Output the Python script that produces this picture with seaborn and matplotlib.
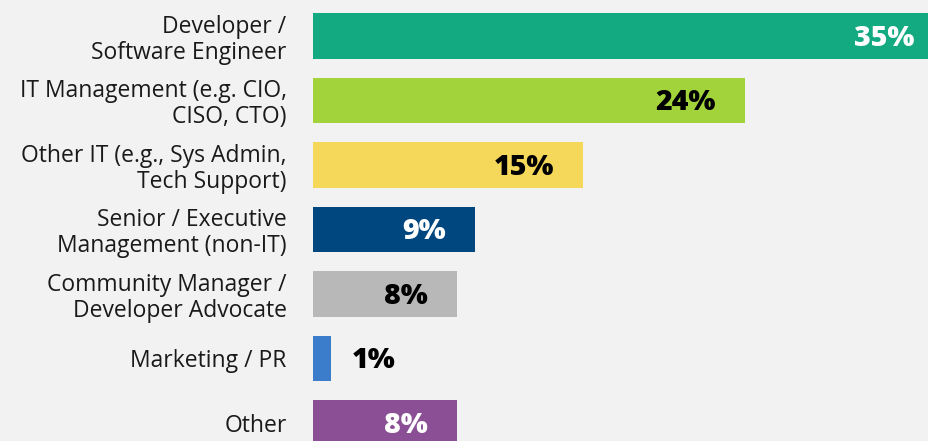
import matplotlib.pyplot as plt
import seaborn as sns
import pandas as pd

# dados
roles = ['Developer /\nSoftware Engineer', 'IT Management (e.g. CIO,\nCISO, CTO)',
         'Other IT (e.g., Sys Admin,\nTech Support)', 'Senior / Executive\nManagement (non-IT)',
         'Community Manager /\nDeveloper Advocate', 'Marketing / PR', 'Other']
shares = [35, 24, 15, 9, 8, 1, 8]
colors = ['#13a981', '#a3d33b', '#f5d75a', '#00467f', '#b8b8b8', '#3b7ccb', '#8b4f96']
label_colors = ['white', 'black', 'black', 'white', 'black', 'black', 'white']

df = pd.DataFrame({'role': roles, 'share': shares})

sns.set_style('white')
plt.rcParams['font.family'] = ['Open Sans', 'DejaVu Sans']

fig = plt.figure(figsize=(9.29, 4.41), dpi=100, facecolor='#f2f2f2')
ax = fig.add_axes([313 / 929, 0, 1 - 313 / 929, 1])
ax.set_facecolor('#f2f2f2')

sns.barplot(data=df, x='share', y='role', hue='role', palette=colors,
            legend=False, width=0.7, saturation=1, linewidth=0, ax=ax)

ax.set_xlim(0, 34.2)
ax.set_ylim(6.28, -0.558)

# rótulos de valor
for i, (v, c) in enumerate(zip(shares, label_colors)):
    if v < 3:
        ax.annotate(f'{v}%', (v, i), xytext=(15, -1.5), textcoords='offset points',
                    ha='left', va='center', fontsize=20.5, fontweight='heavy', color=c,
                    annotation_clip=False)
    else:
        ax.annotate(f'{v}%', (v, i), xytext=(-21, -1.5), textcoords='offset points',
                    ha='right', va='center', fontsize=20.5, fontweight='heavy', color=c,
                    annotation_clip=False)

ax.set_xlabel('')
ax.set_ylabel('')
ax.set_xticks([])
ax.tick_params(axis='y', length=0, pad=19, labelsize=16.5, labelcolor='#1a1a1a')
for lbl in ax.get_yticklabels():
    lbl.set_linespacing(1.1)
sns.despine(ax=ax, left=True, bottom=True)

fig.savefig('out.png', dpi=100, facecolor=fig.get_facecolor())
